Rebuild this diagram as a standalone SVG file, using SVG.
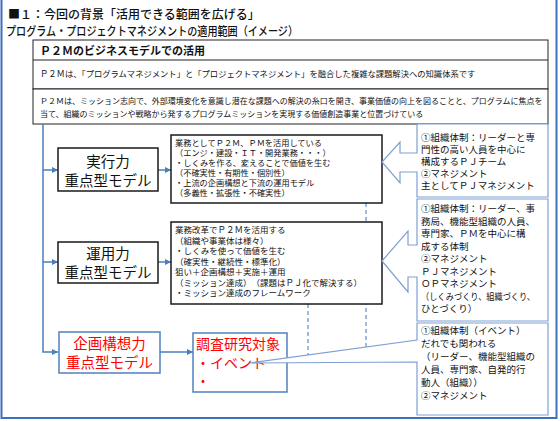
<svg xmlns="http://www.w3.org/2000/svg" width="560" height="421" viewBox="0 0 560 421">
<defs>
<style>
.t{font-family:"Liberation Sans","Noto Sans CJK JP","Noto Sans CJK SC",sans-serif;fill:#111}
.tj{font-family:"Noto Sans CJK JP","Noto Sans CJK SC",sans-serif;fill:#111}
.red{fill:#ff0000}
.blk{fill:#fff;stroke:#1a1a1a;stroke-width:1.5}
.thin{fill:#fff;stroke:#222;stroke-width:1}
.bbox{fill:#fff;stroke:#4f81bd;stroke-width:1.5}
.conn{stroke:#4a7ebb;stroke-width:1.5;fill:none}
.callout{fill:#fff;stroke:#7f9fd3;stroke-width:1.2}
.dash{stroke:#5b8ed0;stroke-width:1.2;stroke-dasharray:4 3;fill:none}
.s1{font-size:8.2px}
.s2{font-size:8.5px}
.s95{font-size:9.5px}
.node{font-size:14.5px;text-anchor:middle}
</style>
<marker id="ah" markerWidth="6" markerHeight="6" refX="6" refY="3" orient="auto" markerUnits="userSpaceOnUse">
<path d="M0,0 L6,3 L0,6 Z" fill="#4a7ebb"/>
</marker>
</defs>
<rect width="560" height="421" fill="#fff"/>
<rect x="1.5" y="-3" width="555" height="421" fill="none" stroke="#3f6fbf" stroke-width="2"/>

<g id="title">
<text class="tj" x="8" y="19" font-size="12" font-weight="500">■１：今回の背景「活用できる範囲を広げる」</text>
<text class="tj" x="6" y="36" font-size="12" font-weight="500" textLength="292" lengthAdjust="spacingAndGlyphs">プログラム・プロジェクトマネジメントの適用範囲（イメージ）</text>
</g>

<g id="p2m-box">
<rect class="thin" x="33" y="40" width="515" height="49"/>
<line x1="33" y1="60" x2="548" y2="60" stroke="#222" stroke-width="1"/>
<text class="t" x="40" y="55" font-size="11" font-weight="bold">Ｐ２Ｍのビジネスモデルでの活用</text>
<text class="t" x="40" y="77" font-size="8.3">Ｐ２Ｍは、「プログラムマネジメント」と「プロジェクトマネジメント」を融合した複雑な課題解決への知識体系です</text>
</g>

<g id="mission-box">
<rect class="thin" x="33" y="89" width="515" height="35"/>
<text class="t" x="40" y="104" font-size="8">Ｐ２Ｍは、ミッション志向で、外部環境変化を意識し潜在な課題への解決の糸口を開き、事業価値の向上を図ることと、プログラムに焦点を</text>
<text class="t" x="40" y="117" font-size="8">当て、組織のミッションや戦略から発するプログラムミッションを実現する価値創造事業と位置づけている</text>
</g>

<g id="connectors">
<path class="conn" d="M43,124 V352 H58" marker-end="url(#ah)"/>
<path class="conn" d="M43,170 H58" marker-end="url(#ah)"/>
<path class="conn" d="M43,262 H58" marker-end="url(#ah)"/>
<path class="conn" d="M158,170 H171" marker-end="url(#ah)"/>
<path class="conn" d="M158,262 H171" marker-end="url(#ah)"/>
<path class="conn" d="M160,352 H193" marker-end="url(#ah)"/>
<path class="dash" d="M366,203 V350"/>
<path class="dash" d="M308,304 V358"/>
</g>

<g id="node-jikko">
<rect class="blk" x="58" y="148" width="100" height="43"/>
<text class="t node" x="108" y="167">実行力</text>
<text class="t node" x="108" y="186">重点型モデル</text>
</g>

<g id="text-jikko">
<rect class="blk" x="171" y="135" width="211" height="68"/>
<text class="t s1" x="175" y="146">業務としてＰ２Ｍ、ＰＭを活用している<tspan x="175" dy="10">（エンジ・建設・ＩＴ・開発業務・・・）</tspan><tspan x="175" dy="10">・しくみを作る、変えることで価値を生む</tspan><tspan x="175" dy="10">（不確実性・有期性・個別性）</tspan><tspan x="175" dy="10">・上流の企画構想と下流の運用モデル</tspan><tspan x="175" dy="10">（多義性・拡張性・不確実性）</tspan></text>
</g>

<g id="node-unyo">
<rect class="blk" x="58" y="242" width="100" height="41"/>
<text class="t node" x="108" y="259">運用力</text>
<text class="t node" x="108" y="278">重点型モデル</text>
</g>

<g id="text-unyo">
<rect class="blk" x="171" y="222" width="211" height="82"/>
<text class="t s2" x="175" y="233">業務改革でＰ２Ｍを活用する<tspan x="175" dy="10.5">（組織や事業体は様々）</tspan><tspan x="175" dy="10.5">・しくみを使って価値を生む</tspan><tspan x="175" dy="10.5">（確実性・継続性・標準化）</tspan><tspan x="175" dy="10.5">狙い＋企画構想＋実施＋運用</tspan><tspan x="175" dy="10.5">（ミッション達成）　（課題はＰＪ化で解決する）</tspan><tspan x="175" dy="10.5">・ミッション達成のフレームワーク</tspan></text>
</g>

<g id="node-kikaku">
<rect class="bbox" x="59" y="332" width="101" height="41"/>
<text class="t node red" x="109.5" y="349">企画構想力</text>
<text class="t node red" x="109.5" y="368">重点型モデル</text>
</g>

<g id="node-chosa">
<rect class="bbox" x="193" y="333" width="94" height="59"/>
<text class="t red" x="196" y="349" font-size="14">調査研究対象</text>
<text class="t red" x="196" y="368" font-size="14">・イベント</text>
<text class="t red" x="196" y="386" font-size="14">・</text>
</g>

<g id="callout-1">
<path class="callout" d="M417,124 H548 V197 H417 V172 H400 V183 L382,162 L400,142 V153 H417 Z"/>
<text class="t s95" x="421" y="141">①組織体制：リーダーと専</text>
<text class="t s95" x="421" y="153">門性の高い人員を中心に</text>
<text class="t s95" x="421" y="165">構成するＰＪチーム</text>
<text class="t s95" x="421" y="177">②マネジメント</text>
<text class="t s95" x="421" y="189">主としてＰＪマネジメント</text>
</g>

<g id="callout-2">
<path class="callout" d="M417,199 H548 V321 H417 V277 H408 V292 L382,261 L408,231 V245 H417 Z"/>
<text class="t s95" x="421" y="212">①組織体制：リーダー、事</text>
<text class="t s95" x="421" y="224.5">務局、機能型組織の人員、</text>
<text class="t s95" x="421" y="237">専門家、ＰＭを中心に構</text>
<text class="t s95" x="421" y="249.5">成する体制</text>
<text class="t s95" x="421" y="262">②マネジメント</text>
<text class="t s95" x="421" y="274.5">ＰＪマネジメント</text>
<text class="t s95" x="421" y="287">ＯＰマネジメント</text>
<text class="t s95" x="421" y="299.5" textLength="114" lengthAdjust="spacingAndGlyphs">（しくみづくり、組織づくり、</text>
<text class="t s95" x="421" y="312">ひとづくり）</text>
</g>

<g id="callout-3">
<path class="callout" d="M417,323 H548 V415 H417 V362 L250,363 L417,340 Z"/>
<text class="t s95" x="421" y="334">①組織体制（イベント）</text>
<text class="t s95" x="421" y="347">だれでも関われる</text>
<text class="t s95" x="421" y="360">（リーダー、機能型組織の</text>
<text class="t s95" x="421" y="373">人員、専門家、自発的行</text>
<text class="t s95" x="421" y="386">動人（組織））</text>
<text class="t s95" x="421" y="399">②マネジメント</text>
</g>
</svg>
